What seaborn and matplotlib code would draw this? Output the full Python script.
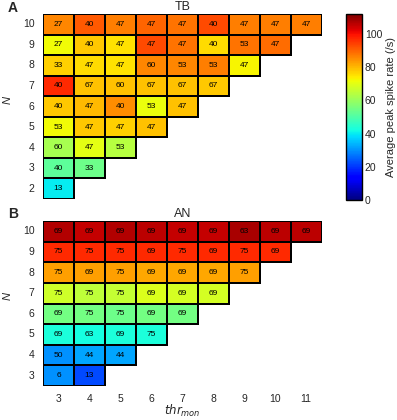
import numpy as np
import pandas as pd
import matplotlib
matplotlib.use("Agg")
import matplotlib.pyplot as plt
import seaborn as sns

# Columns (thr_mon) and rows (N) of both panels
thr_mon = [3, 4, 5, 6, 7, 8, 9, 10, 11]
n_tb = [10, 9, 8, 7, 6, 5, 4, 3, 2]
n_an = [10, 9, 8, 7, 6, 5, 4, 3]

# Panel A (TB): printed numbers per row
tb_text = [
    [27, 40, 47, 47, 47, 40, 47, 47, 47],
    [27, 40, 47, 47, 47, 40, 53, 47],
    [33, 47, 47, 60, 53, 53, 47],
    [40, 67, 60, 67, 67, 67],
    [40, 47, 40, 53, 47],
    [53, 47, 47, 47],
    [60, 47, 53],
    [40, 33],
    [13],
]
# Panel A (TB): average peak spike rate (cell colour)
tb_rate = [
    [86, 91, 87, 90, 88, 93, 87, 87, 87],
    [72, 78, 75, 93, 88, 76, 88, 89],
    [77, 76, 75, 86, 86, 87, 73],
    [97, 79, 79, 79, 79, 78],
    [78, 80, 85, 71, 79],
    [72, 78, 77, 79],
    [62, 70, 64],
    [52, 54],
    [40],
]

# Panel B (AN): printed numbers per row
an_text = [
    [69, 69, 69, 69, 69, 69, 63, 69, 69],
    [75, 75, 75, 69, 75, 69, 75, 69],
    [75, 69, 75, 69, 69, 69, 75],
    [75, 75, 75, 69, 69, 69],
    [69, 75, 75, 69, 69],
    [69, 63, 69, 75],
    [50, 44, 44],
    [6, 13],
]
# Panel B (AN): average peak spike rate (cell colour)
an_rate = [
    [107, 105, 107, 106, 105, 105, 108, 106, 106],
    [97, 97, 97, 97, 97, 97, 97, 97],
    [83, 83, 83, 82, 82, 82, 83],
    [67, 65, 66, 69, 68, 68],
    [55, 55, 54, 55, 55],
    [43, 42, 43, 43],
    [30, 32, 32],
    [30, 22],
]


def to_frame(rows, index):
    arr = np.full((len(rows), len(thr_mon)), np.nan)
    for i, r in enumerate(rows):
        arr[i, :len(r)] = r
    return pd.DataFrame(arr, index=index, columns=thr_mon)


def to_labels(rows, index):
    lab = [[str(v) for v in r] + [""] * (len(thr_mon) - len(r)) for r in rows]
    return pd.DataFrame(lab, index=index, columns=thr_mon)


sns.set_theme(style="white")
plt.rcParams["font.family"] = ["Liberation Sans", "DejaVu Sans"]

fig = plt.figure(figsize=(3.97, 4.2), dpi=100)
W, H = 397, 420


def px(x0, y0, x1, y1):
    return [x0 / W, 1 - y1 / H, (x1 - x0) / W, (y1 - y0) / H]


ax_a = fig.add_axes(px(43, 14, 321.5, 199))
ax_b = fig.add_axes(px(43, 221, 321.5, 386))
cax = fig.add_axes(px(346, 14, 362, 200))

vmax = 112
for ax, rate, text, idx, title in [
    (ax_a, tb_rate, tb_text, n_tb, "TB"),
    (ax_b, an_rate, an_text, n_an, "AN"),
]:
    df = to_frame(rate, idx)
    sns.heatmap(
        df, ax=ax, cmap="jet", vmin=0, vmax=vmax, mask=df.isna(),
        annot=to_labels(text, idx), fmt="", annot_kws={"size": 6, "color": "black"},
        linewidths=1.3, linecolor="black", cbar=(ax is ax_a),
        cbar_ax=cax if ax is ax_a else None,
    )
    # only outline the cells that hold data
    mesh = ax.collections[0]
    valid = ~df.isna().to_numpy().ravel()
    mesh.set_edgecolor([(0, 0, 0, 1) if v else (0, 0, 0, 0) for v in valid])
    ax.set_title(title, fontsize=9, pad=3)
    ax.set_ylabel("")
    ax.tick_params(axis="both", length=0, labelsize=7.5, pad=6)
    ax.set_yticklabels(ax.get_yticklabels(), rotation=0)
    ax.set_xlabel("")
    for t in ax.texts:
        t.set_color("black")

ax_a.set_xticklabels([])
ax_b.set_xticklabels(thr_mon, rotation=0)
ax_b.set_xlabel(r"$thr_{mon}$", fontsize=8.5, labelpad=-1)

fig.text(8 / W, 1 - 100 / H, "N", fontsize=8, style="italic", rotation=90, ha="center", va="center")
fig.text(8 / W, 1 - 296 / H, "N", fontsize=8, style="italic", rotation=90, ha="center", va="center")
fig.text(8 / W, 1 - 8 / H, "A", fontsize=10, fontweight="bold", va="center")
fig.text(8 / W, 1 - 214 / H, "B", fontsize=10, fontweight="bold", va="center")

cbar = ax_a.collections[0].colorbar
cbar.set_ticks([0, 20, 40, 60, 80, 100])
cbar.ax.tick_params(labelsize=7.5, length=2, direction="in", pad=2)
cbar.outline.set_edgecolor("black")
cbar.outline.set_linewidth(1)
cbar.set_label("Average peak spike rate (/s)", fontsize=8, rotation=90, labelpad=3)

fig.savefig("out.png", dpi=100)
